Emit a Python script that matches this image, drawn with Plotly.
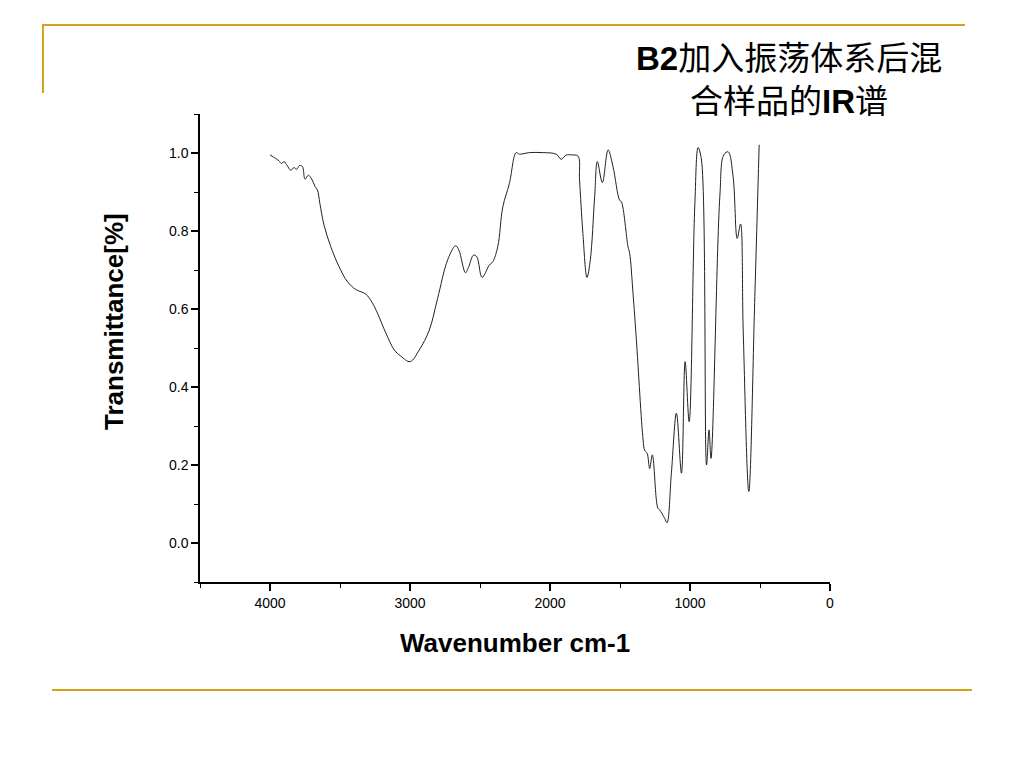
import plotly.graph_objects as go

wavenumber = [4000, 3960, 3936, 3917, 3900, 3876, 3852, 3828, 3812, 3788, 3768, 3750, 3726, 3702,
              3678, 3661, 3644, 3614, 3566, 3506, 3447, 3387, 3315, 3268, 3232, 3172, 3112, 3065,
              2999, 2934, 2862, 2803, 2731, 2675, 2651, 2604, 2580, 2547, 2523, 2485, 2433, 2409,
              2373, 2337, 2290, 2242, 2218, 2147, 2051, 1956, 1920, 1884, 1848, 1800, 1789, 1765,
              1736, 1712, 1681, 1662, 1626, 1585, 1550, 1503, 1490, 1443, 1431, 1407, 1383, 1335,
              1324, 1306, 1288, 1269, 1240, 1229, 1217, 1181, 1164, 1133, 1097, 1061, 1035, 1006,
              966, 942, 918, 882, 864, 850, 787, 759, 727, 692, 663, 639, 620, 580, 537, 506]
transmittance = [0.995, 0.986, 0.980, 0.973, 0.978, 0.967, 0.956, 0.963, 0.958, 0.968, 0.965, 0.933, 0.943, 0.933,
                 0.914, 0.905, 0.871, 0.815, 0.760, 0.708, 0.670, 0.650, 0.638, 0.615, 0.589, 0.538, 0.495, 0.479,
                 0.465, 0.495, 0.546, 0.627, 0.726, 0.762, 0.751, 0.693, 0.709, 0.738, 0.734, 0.681, 0.713, 0.721,
                 0.760, 0.862, 0.922, 1.001, 0.997, 1.001, 1.001, 0.997, 0.984, 0.995, 0.995, 0.992, 0.931, 0.794,
                 0.681, 0.726, 0.888, 0.978, 0.924, 1.008, 0.965, 0.879, 0.875, 0.760, 0.743, 0.640, 0.521, 0.264,
                 0.238, 0.230, 0.191, 0.226, 0.110, 0.089, 0.085, 0.063, 0.052, 0.179, 0.333, 0.179, 0.465, 0.311,
                 0.862, 1.014, 0.982, 0.200, 0.290, 0.217, 0.888, 0.995, 1.003, 0.939, 0.781, 0.818, 0.546, 0.132, 0.632, 1.021]

x_ticks = [4000, 3000, 2000, 1000, 0]
y_ticks = [0.0, 0.2, 0.4, 0.6, 0.8, 1.0]

title_text = "<b>B2</b>加入振荡体系后混<br>合样品的<b>IR</b>谱"
x_title = "Wavenumber cm-1"
y_title = "Transmittance[%]"

GOLD = "#D4A21B"
L, R, T, B = 200, 830, 114, 582
W, H = 1024, 768

def px(x):
    return (x - L) / (R - L)

def py(y):
    return (B - y) / (B - T)

fig = go.Figure()
fig.add_trace(go.Scatter(x=wavenumber, y=transmittance, mode="lines",
                         line=dict(color="#222222", width=1), line_shape="spline",
                         hoverinfo="skip", showlegend=False))

fig.update_xaxes(range=[4500, 0], tickvals=x_ticks, ticktext=[str(v) for v in x_ticks],
                 showgrid=False, zeroline=False, showline=True, linecolor="black", linewidth=1.5,
                 ticks="outside", ticklen=7, tickwidth=1.5, tickcolor="black",
                 minor=dict(dtick=500, ticks="outside", ticklen=4, tickwidth=1.2, tickcolor="black"),
                 tickfont=dict(family="Liberation Sans, Arial", size=14, color="black"))
fig.update_yaxes(range=[-0.1, 1.1], tickvals=y_ticks, ticktext=[f"{v:.1f}" for v in y_ticks],
                 showgrid=False, zeroline=False, showline=True, linecolor="black", linewidth=1.5,
                 ticks="outside", ticklen=7, tickwidth=1.5, tickcolor="black",
                 minor=dict(tick0=-0.1, dtick=0.1, ticks="outside", ticklen=4, tickwidth=1.2, tickcolor="black"),
                 tickfont=dict(family="Liberation Sans, Arial", size=14, color="black"))

shapes = [
    dict(type="line", xref="paper", yref="paper", x0=px(42), x1=px(965), y0=py(25), y1=py(25),
         line=dict(color=GOLD, width=2)),
    dict(type="line", xref="paper", yref="paper", x0=px(43), x1=px(43), y0=py(25), y1=py(93),
         line=dict(color=GOLD, width=2)),
    dict(type="line", xref="paper", yref="paper", x0=px(52), x1=px(972), y0=py(690), y1=py(690),
         line=dict(color=GOLD, width=2)),
]

annotations = [
    dict(text=title_text, xref="paper", yref="paper", x=px(789), y=py(80), xanchor="center", yanchor="middle",
         showarrow=False, align="center",
         font=dict(family="Liberation Sans, Noto Sans CJK SC", size=33, color="black")),
    dict(text=f"<b>{x_title}</b>", xref="paper", yref="paper", x=px(515), y=py(643),
         xanchor="center", yanchor="middle", showarrow=False,
         font=dict(family="Liberation Sans, Arial", size=26, color="black")),
    dict(text=f"<b>{y_title}</b>", xref="paper", yref="paper", x=px(114), y=py(322),
         xanchor="center", yanchor="middle", showarrow=False, textangle=-90,
         font=dict(family="Liberation Sans, Arial", size=26, color="black")),
]

fig.update_layout(width=W, height=H, autosize=False,
                  margin=dict(l=L, r=W - R, t=T, b=H - B, pad=0),
                  paper_bgcolor="white", plot_bgcolor="white",
                  shapes=shapes, annotations=annotations)

fig.write_html("out.html", config={"displayModeBar": False},
               post_script="document.body.style.margin='0';")
